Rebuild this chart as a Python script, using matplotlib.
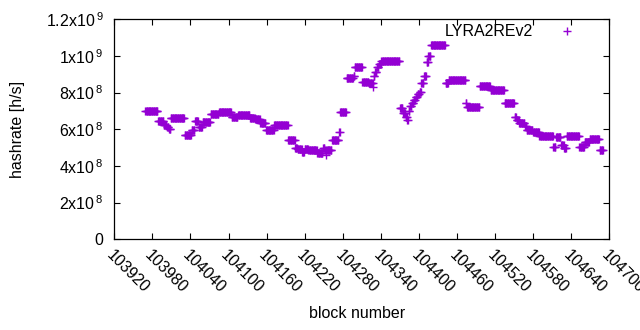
import numpy as np
import matplotlib
matplotlib.use('Agg')
import matplotlib.pyplot as plt
from matplotlib.ticker import FuncFormatter

plt.rcParams['font.family'] = ['Liberation Sans', 'DejaVu Sans']
plt.rcParams['mathtext.fontset'] = 'custom'
plt.rcParams['mathtext.rm'] = 'Liberation Sans'
plt.rcParams['mathtext.default'] = 'regular'

# hashrate is flat between difficulty retargets, so keep it as runs of blocks
first_block = 103969
run_lengths = [20, 9, 5, 3, 3, 22, 11, 5, 6, 6, 13, 13, 20, 10, 19, 8, 8, 9, 13, 22,
               11, 4, 7, 4, 6, 14, 9, 3, 2, 1, 8, 11, 2, 10, 11, 2, 12, 10, 7, 1,
               2, 3, 3, 4, 29, 5, 4, 3, 2, 2, 3, 3, 3, 3, 3, 3, 4, 4, 3, 4,
               23, 5, 27, 2, 20, 17, 22, 16, 3, 4, 9, 3, 10, 10, 22, 4, 8, 5, 4, 20,
               8, 8, 16, 6]
# values in 1e6 h/s
run_values = [698, 644, 623, 610, 600, 660, 570, 598, 645, 612, 641, 682, 693, 669, 677, 662, 655, 633, 596, 622,
              540, 500, 490, 476, 493, 487, 469, 500, 486, 460, 486, 540, 587, 695, 881, 893, 938, 860, 851, 829,
              890, 913, 940, 956, 971, 714, 690, 668, 652, 700, 725, 745, 760, 775, 790, 805, 855, 892, 965, 1000,
              1060, 850, 868, 742, 720, 838, 814, 742, 669, 651, 636, 618, 596, 588, 562, 505, 556, 514, 498, 562,
              505, 532, 545, 489]

x_ticks = list(range(103920, 104701, 60))
y_ticks = [0, 2e8, 4e8, 6e8, 8e8, 1e9, 1.2e9]

blocks = first_block + np.arange(sum(run_lengths))
hashrate = np.repeat(run_values, run_lengths) * 1e6

FS = 11.5


def gnuplot_sci(v, pos):
    if v == 0:
        return '0'
    e = int(np.floor(np.log10(v) + 1e-9))
    m = v / 10 ** e
    return f'{m:g}x10$^{{\\,{e}}}$'


fig = plt.figure(figsize=(6.4, 3.3), dpi=100)
ax = fig.add_axes([0.1786, 0.2748, 0.7734, 0.6667])

ax.plot(blocks, hashrate, linestyle='none', marker='+', color='#9400d3',
        markersize=5.5, markeredgewidth=1.0, label='LYRA2REv2')

ax.set_xlim(103920, 104700)
ax.set_ylim(0, 1.2e9)
ax.set_xticks(x_ticks)
ax.set_yticks(y_ticks)
ax.yaxis.set_major_formatter(FuncFormatter(gnuplot_sci))
ax.set_xticklabels([str(t) for t in x_ticks], rotation=-45, ha='left', va='top',
                   rotation_mode='anchor')
ax.tick_params(direction='in', top=True, right=True, length=4, width=0.8,
               labelsize=FS, colors='black')
ax.tick_params(axis='x', pad=6)
ax.tick_params(axis='y', pad=8)
for s in ax.spines.values():
    s.set_linewidth(0.9)

ax.set_xlabel('block number', fontsize=FS)
ax.xaxis.set_label_coords(0.49, -0.305)
ax.set_ylabel('hashrate [h/s]', fontsize=FS)
ax.yaxis.set_label_coords(-0.18, 0.5)

ax.legend(loc='upper right', bbox_to_anchor=(0.964, 0.978), frameon=False,
          markerfirst=False, handlelength=3.05, handletextpad=0.6,
          borderpad=0, borderaxespad=0, fontsize=FS)

fig.savefig('out.png', dpi=100)
